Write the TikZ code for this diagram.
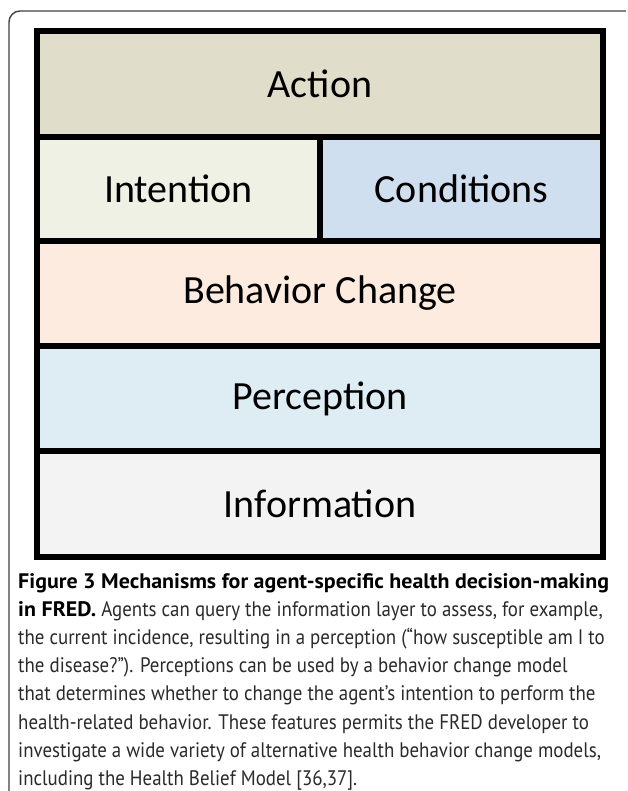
\documentclass[tikz,border=0pt]{standalone}
\usepackage{fontspec}
\newfontfamily\boxfont{Carlito}
\newfontfamily\capfont[FakeStretch=0.90]{PT Sans}
\newfontfamily\capbold[FakeStretch=1.045]{PT Sans}
\newcommand{\capB}[1]{{\capbold\bfseries\color{black}#1}}
\definecolor{cAction}{HTML}{E0DDCA}
\definecolor{cIntent}{HTML}{EEF1E3}
\definecolor{cCond}{HTML}{CFDFF0}
\definecolor{cBehav}{HTML}{FDEBDF}
\definecolor{cPercep}{HTML}{DDEDF3}
\definecolor{cInfo}{HTML}{F3F3F3}
\definecolor{frameC}{HTML}{404040}
\definecolor{capC}{HTML}{2A2A2A}
\tikzset{
  cell/.style={draw=black, line width=6pt, inner sep=0pt, font=\boxfont\fontsize{40}{48}\selectfont, text=black},
  capline/.style={anchor=base west, inner sep=0pt, font=\capfont\fontsize{21}{25}\selectfont, text=capC},
}
\begin{document}
\begin{tikzpicture}[x=1pt,y=-1pt]
\useasboundingbox (0,0) rectangle (627,791);
\fill[white] (0,0) rectangle (627,791);
% outer frame (top and left only)
\draw[frameC, line width=1.4pt, rounded corners=11pt] (9,792) -- (9,11) -- (626,11);
% cells
\node[cell, fill=cAction, minimum width=566pt, minimum height=106pt] (action) at (320,84) {Action};
\node[cell, fill=cIntent, minimum width=283pt, minimum height=104pt] (intention) at (178.5,189) {Intention};
\node[cell, fill=cCond, minimum width=283pt, minimum height=104pt] (conditions) at (461.5,189) {Conditions};
\node[cell, fill=cBehav, minimum width=566pt, minimum height=105pt] (behavior) at (320,293.5) {Behavior Change};
\node[cell, fill=cPercep, minimum width=566pt, minimum height=105pt] (perception) at (320,398.5) {Perception};
\node[cell, fill=cInfo, minimum width=566pt, minimum height=106pt] (information) at (320,504) {Information};
% caption
\node[capline] (c1) at (18,588) {\capB{Figure 3 Mechanisms for agent-specific health decision-making}};
\node[capline] (c2) at (18,616.2) {\capB{in FRED.} Agents can query the information layer to assess, for example,};
\node[capline] (c3) at (18,644.4) {the current incidence, resulting in a perception (“how susceptible am I to};
\node[capline] (c4) at (18,672.6) {the disease?”). Perceptions can be used by a behavior change model};
\node[capline] (c5) at (18,700.8) {that determines whether to change the agent’s intention to perform the};
\node[capline] (c6) at (18,729) {health-related behavior. These features permits the FRED developer to};
\node[capline] (c7) at (18,757.2) {investigate a wide variety of alternative health behavior change models,};
\node[capline] (c8) at (18,785.4) {including the Health Belief Model [36,37].};
\end{tikzpicture}
\end{document}
